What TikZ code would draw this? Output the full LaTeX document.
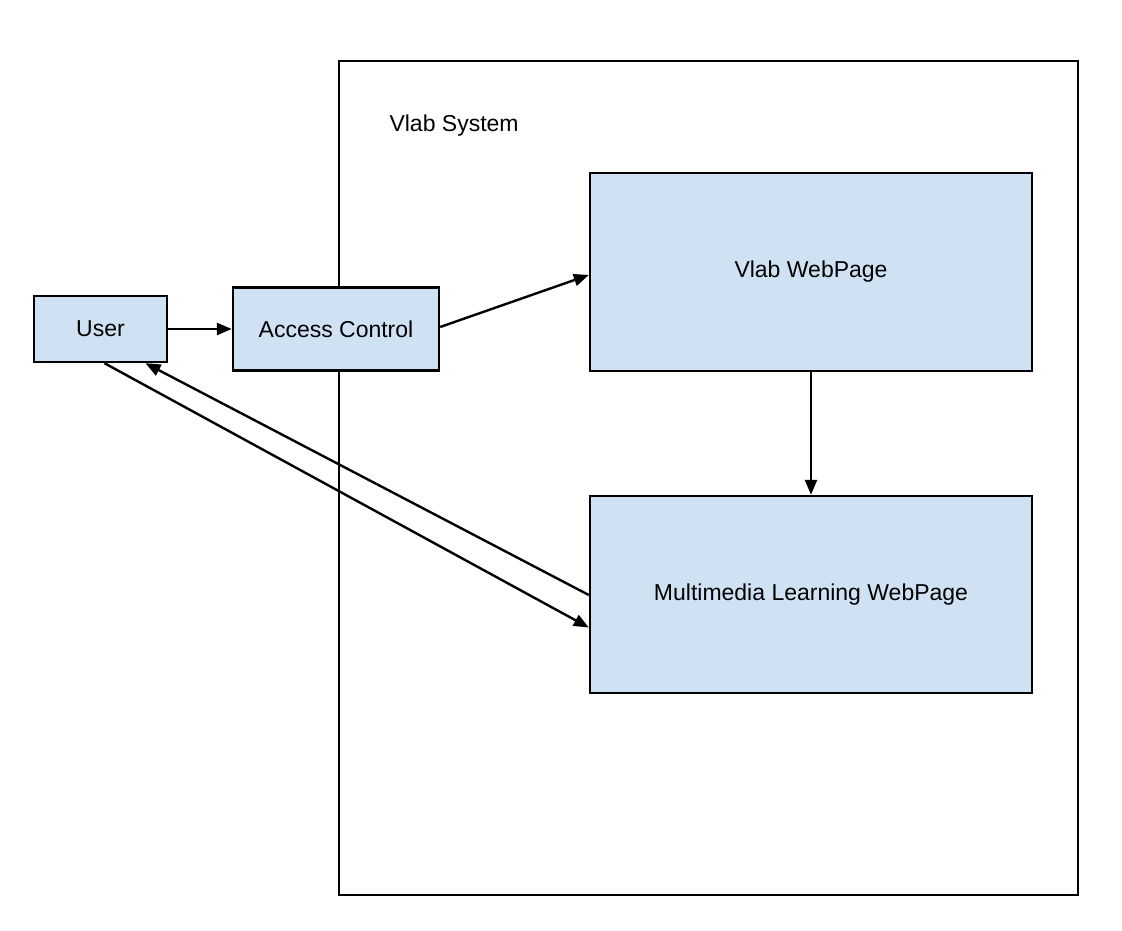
\documentclass[tikz,border=0pt]{standalone}
\usepackage{fontspec}
\setmainfont{Liberation Sans}
\usetikzlibrary{arrows.meta,calc}
\definecolor{boxblue}{HTML}{CFE2F3}
\tikzset{
  blk/.style={draw=black,line width=2.4pt,fill=boxblue,inner sep=0pt,
    font=\fontsize{23}{27}\selectfont},
  frame/.style={draw=black,line width=2.4pt,inner sep=0pt},
  conn/.style={line width=2.4pt,-{Triangle[length=15pt,width=12pt]}},
}
\begin{document}
\begin{tikzpicture}[x=1pt,y=-1pt]
\useasboundingbox (0,0) rectangle (1122,931);
\fill[white] (0,0) rectangle (1122,931);
% system frame
\node[frame,minimum width=739pt,minimum height=834pt] (sys) at (708.5,478) {};
\node[anchor=west,font=\fontsize{23}{27}\selectfont] (syslabel) at (386,126) {Vlab System};
% boxes
\node[blk,minimum width=442pt,minimum height=198pt] (vlab) at (811,272) {Vlab WebPage};
\node[blk,minimum width=442pt,minimum height=197pt] (mm) at (811,594.5) {Multimedia Learning WebPage};
\node[blk,minimum width=133pt,minimum height=66pt] (user) at (100.5,329) {User};
\node[blk,minimum width=206pt,minimum height=83pt] (ac) at (336,329) {Access Control};
% connectors
\draw[conn] (user.east) -- (ac.west);
\coordinate (acout) at ($(ac.east)+(0,-2)$);
\coordinate (vin) at ($(vlab.west)+(0,3)$);
\draw[conn] (acout) -- (vin);
\draw[conn] (vlab.south) -- (mm.south |- mm.north);
\coordinate (mmout) at ($(mm.west)+(0,0.5)$);
\coordinate (uin) at ($(user.south)+(45,0)$);
\draw[conn] (mmout) -- (uin);
\coordinate (uout) at ($(user.south)+(4,0)$);
\coordinate (mmin) at ($(mm.west)+(0,33)$);
\draw[conn] (uout) -- (mmin);
\end{tikzpicture}
\end{document}
